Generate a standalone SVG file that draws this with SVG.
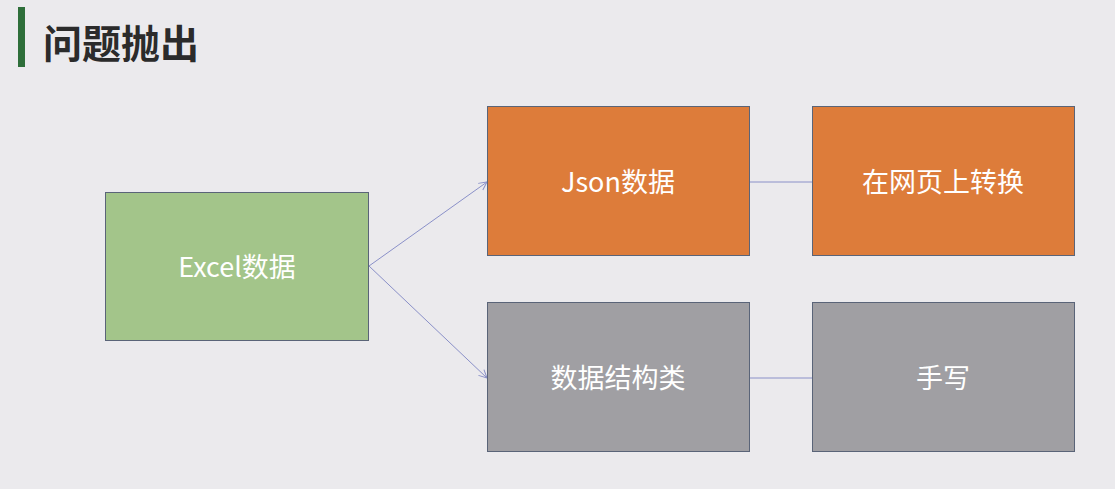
<svg xmlns="http://www.w3.org/2000/svg" width="1115" height="489" viewBox="0 0 1115 489">
<style>
.box{stroke:#5a6478;stroke-width:1}
.lbl{font-family:"Noto Sans CJK SC","Noto Sans",sans-serif;font-size:27px;fill:#ffffff;text-anchor:middle;dominant-baseline:central}
.con{stroke:#8a90c8;stroke-width:1;fill:none}
</style>
<defs>
<marker id="arr" markerWidth="10" markerHeight="10" refX="9" refY="5" orient="auto" markerUnits="userSpaceOnUse">
<path d="M1,1 L9,5 L1,9" fill="none" stroke="#8a90c8" stroke-width="1"/>
</marker>
</defs>
<rect width="1115" height="489" fill="#ebeaed"/>
<g id="title">
<rect x="18" y="7" width="7" height="60" fill="#2e6e3a"/>
<text x="43" y="58" font-family="Noto Sans CJK SC,sans-serif" font-size="39" font-weight="bold" fill="#2b2b2b">问题抛出</text>
</g>
<g id="connectors">
<line class="con" x1="369" y1="266" x2="487" y2="182" marker-end="url(#arr)"/>
<line class="con" x1="369" y1="266" x2="487" y2="378" marker-end="url(#arr)"/>
<line class="con" x1="750" y1="182" x2="812" y2="182"/>
<line class="con" x1="750" y1="378" x2="812" y2="378"/>
</g>
<g id="excel">
<rect class="box" x="105.5" y="192.5" width="263" height="148" fill="#a3c58a"/>
<text class="lbl" x="237" y="265">Excel数据</text>
</g>
<g id="json">
<rect class="box" x="487.5" y="106.5" width="262" height="149" fill="#dd7c3a"/>
<text class="lbl" x="618" y="180">Json数据</text>
</g>
<g id="convert">
<rect class="box" x="812.5" y="106.5" width="262" height="149" fill="#dd7c3a"/>
<text class="lbl" x="943" y="180">在网页上转换</text>
</g>
<g id="struct">
<rect class="box" x="487.5" y="302.5" width="262" height="149" fill="#a09fa3"/>
<text class="lbl" x="618" y="376">数据结构类</text>
</g>
<g id="handwrite">
<rect class="box" x="812.5" y="302.5" width="262" height="149" fill="#a09fa3"/>
<text class="lbl" x="943" y="376">手写</text>
</g>
</svg>
